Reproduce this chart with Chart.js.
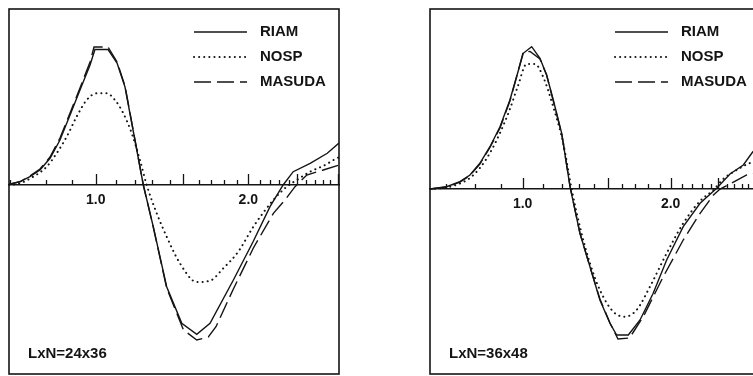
<!DOCTYPE html>
<html>
<head>
<meta charset="utf-8">
<script src="https://cdn.jsdelivr.net/npm/chart.js@4"></script>
<style>
  html, body { margin: 0; padding: 0; background: #fff; overflow: hidden; width: 753px; height: 376px; }
  .panel { position: absolute; top: 7px; height: 369px; }
  #left { left: 7px; width: 334px; }
  #right { left: 428px; width: 337px; }
</style>
</head>
<body>
<div class="panel" id="left"><canvas id="chartLeft"></canvas></div>
<div class="panel" id="right"><canvas id="chartRight"></canvas></div>
<script>
  /* wave profile comparison, two grid resolutions */

  const SERIES = ["RIAM", "NOSP", "MASUDA"];
  const TICK_LABELS = [1.0, 2.0];
  const CAPTIONS = ["LxN=24x36", "LxN=36x48"];

  // grid node positions marked on the axis
  const nodes24 = [0.438, 0.672, 0.843, 1.0, 1.131, 1.258, 1.367, 1.487, 1.574, 1.677, 1.756, 1.841,
    1.928, 2.0, 2.077, 2.142, 2.203, 2.265, 2.317, 2.378, 2.437, 2.488, 2.535, 2.588];
  const nodes36 = [0.482, 0.678, 0.853, 1.0, 1.139, 1.264, 1.380, 1.484, 1.578, 1.673, 1.759, 1.845,
    1.926, 2.0, 2.074, 2.142, 2.209, 2.273, 2.322, 2.378, 2.43, 2.48, 2.524, 2.57];

  // [x, y] pairs, LxN = 24x36
  const riam24 = [[0.432, 0.007], [0.506, 0.033], [0.569, 0.083], [0.635, 0.15], [0.701, 0.267], [0.766, 0.45],
    [0.832, 0.70], [0.897, 0.95], [0.963, 1.20], [0.995, 1.355], [1.081, 1.355], [1.140, 1.22], [1.192, 0.98],
    [1.312, 0.0], [1.377, -0.417], [1.465, -1.017], [1.564, -1.383], [1.662, -1.493], [1.749, -1.383],
    [1.902, -0.95], [2.031, -0.567], [2.142, -0.217], [2.228, 0.0], [2.294, 0.133], [2.405, 0.217],
    [2.517, 0.317], [2.594, 0.42]];
  const nosp24 = [[0.432, 0.0], [0.504, 0.017], [0.591, 0.083], [0.679, 0.183], [0.744, 0.317], [0.810, 0.483],
    [0.875, 0.683], [0.941, 0.85], [1.007, 0.917], [1.072, 0.917], [1.126, 0.85], [1.181, 0.717], [1.236, 0.517],
    [1.290, 0.25], [1.334, 0.0], [1.400, -0.283], [1.465, -0.517], [1.552, -0.783], [1.662, -0.97],
    [1.749, -0.957], [1.836, -0.833], [1.934, -0.667], [2.033, -0.417], [2.164, -0.15], [2.252, -0.017],
    [2.317, 0.05], [2.405, 0.133], [2.503, 0.2], [2.579, 0.267], [2.594, 0.275]];
  const masuda24 = [[0.432, 0.005], [0.506, 0.035], [0.569, 0.09], [0.635, 0.16], [0.701, 0.28], [0.766, 0.47],
    [0.832, 0.72], [0.897, 0.97], [0.963, 1.23], [0.989, 1.38], [1.081, 1.38], [1.140, 1.23], [1.192, 0.99],
    [1.312, 0.0], [1.377, -0.42], [1.465, -1.03], [1.575, -1.45], [1.662, -1.55], [1.738, -1.52],
    [1.788, -1.417], [1.902, -1.04], [2.033, -0.63], [2.164, -0.283], [2.240, -0.15], [2.306, -0.017],
    [2.383, 0.10], [2.491, 0.15], [2.594, 0.20]];

  // [x, y] pairs, LxN = 36x48
  const riam36 = [[0.374, 0.0], [0.486, 0.023], [0.576, 0.073], [0.644, 0.14], [0.711, 0.257], [0.779, 0.423],
    [0.847, 0.623], [0.914, 0.89], [0.959, 1.123], [1.004, 1.357], [1.061, 1.423], [1.117, 1.307], [1.162, 1.14],
    [1.207, 0.89], [1.264, 0.557], [1.320, 0.023], [1.387, -0.443], [1.455, -0.777], [1.522, -1.11],
    [1.590, -1.343], [1.635, -1.46], [1.714, -1.46], [1.793, -1.31], [1.882, -1.043], [1.973, -0.71],
    [2.085, -0.377], [2.199, -0.143], [2.311, 0.007], [2.401, 0.15], [2.491, 0.24], [2.554, 0.37], [2.624, 0.47]];
  const nosp36 = [[0.374, 0.0], [0.486, 0.015], [0.576, 0.055], [0.644, 0.11], [0.711, 0.21], [0.779, 0.36],
    [0.847, 0.56], [0.914, 0.80], [0.968, 1.03], [1.027, 1.25], [1.083, 1.25], [1.139, 1.12], [1.207, 0.82],
    [1.274, 0.46], [1.331, 0.0], [1.387, -0.377], [1.455, -0.743], [1.522, -1.01], [1.612, -1.227],
    [1.691, -1.277], [1.770, -1.21], [1.860, -0.977], [1.973, -0.643], [2.085, -0.343], [2.199, -0.12],
    [2.289, -0.01], [2.355, 0.10], [2.446, 0.19], [2.536, 0.26], [2.624, 0.29]];
  const masuda36 = [[0.374, 0.0], [0.486, 0.02], [0.576, 0.07], [0.644, 0.135], [0.711, 0.25], [0.779, 0.415],
    [0.847, 0.61], [0.914, 0.88], [0.959, 1.12], [1.004, 1.37], [1.050, 1.375], [1.117, 1.30], [1.162, 1.14],
    [1.207, 0.88], [1.264, 0.55], [1.320, 0.03], [1.387, -0.44], [1.455, -0.78], [1.522, -1.10],
    [1.590, -1.34], [1.644, -1.50], [1.722, -1.49], [1.815, -1.277], [1.950, -0.877], [2.085, -0.51],
    [2.199, -0.243], [2.289, -0.06], [2.334, 0.0], [2.401, 0.05], [2.514, 0.14], [2.624, 0.17]];

  const INK = "#141414";
  const FONT = '"Liberation Sans", Arial, Helvetica, sans-serif';

  const lineStyles = [
    { borderDash: [], borderWidth: 1.4, borderCapStyle: "butt", tension: 0 },
    { borderDash: [0.1, 5], borderWidth: 2, borderCapStyle: "round", cubicInterpolationMode: "monotone" },
    { borderDash: [17, 6], borderWidth: 1.4, borderCapStyle: "butt", tension: 0 }
  ];

  // frame, node ticks on the zero line, inline legend and caption
  const panelDecor = {
    id: "panelDecor",
    afterDatasetsDraw(chart, args, opts) {
      const { ctx, chartArea: a, scales: { x, y } } = chart;
      const y0 = y.getPixelForValue(0);

      ctx.save();
      ctx.strokeStyle = INK;
      ctx.fillStyle = INK;

      ctx.lineWidth = 1.3;
      opts.nodes.forEach((v, i) => {
        const px = Math.round(x.getPixelForValue(v)) + 0.5;
        const h = i % 5 === 3 ? 11 : 5;
        ctx.beginPath();
        ctx.moveTo(px, y0);
        ctx.lineTo(px, y0 - h);
        ctx.stroke();
      });

      ctx.lineWidth = 1.6;
      ctx.strokeRect(a.left, a.top, a.width, a.height);

      ctx.font = "bold 15px " + FONT;
      ctx.textBaseline = "middle";
      chart.data.datasets.forEach((ds, i) => {
        const ly = a.top + 23 + i * 25;
        ctx.save();
        ctx.lineWidth = ds.borderWidth;
        ctx.setLineDash(ds.borderDash);
        ctx.lineCap = ds.borderCapStyle;
        ctx.beginPath();
        ctx.moveTo(a.left + 185, ly);
        ctx.lineTo(a.left + 238, ly);
        ctx.stroke();
        ctx.restore();
        ctx.fillText(ds.label, a.left + 251, ly);
      });

      ctx.textBaseline = "alphabetic";
      ctx.fillText(opts.caption, a.left + 19, a.bottom - 16);
      ctx.restore();
    }
  };

  function makePanel(canvasId, seriesData, nodes, caption, xRange, yRange) {
    return new Chart(document.getElementById(canvasId), {
      type: "line",
      data: {
        datasets: seriesData.map((pts, i) => ({
          label: SERIES[i],
          data: pts.map(([x, y]) => ({ x, y })),
          borderColor: INK,
          pointRadius: 0,
          fill: false,
          ...lineStyles[i]
        }))
      },
      options: {
        responsive: true,
        maintainAspectRatio: false,
        animation: false,
        events: [],
        layout: { padding: 2 },
        plugins: {
          legend: { display: false },
          tooltip: { enabled: false },
          panelDecor: { nodes, caption }
        },
        scales: {
          x: {
            type: "linear",
            min: xRange[0],
            max: xRange[1],
            position: { y: 0 },
            afterBuildTicks(scale) {
              scale.ticks = TICK_LABELS.map(v => ({ value: v }));
            },
            ticks: {
              callback: v => v.toFixed(1),
              color: INK,
              font: { family: FONT, size: 14, weight: "bold" },
              padding: 7,
              maxRotation: 0,
              autoSkip: false
            },
            grid: { display: false, drawTicks: false },
            border: { display: true, color: INK, width: 1.4 }
          },
          y: {
            type: "linear",
            min: yRange[0],
            max: yRange[1],
            display: false
          }
        }
      },
      plugins: [panelDecor]
    });
  }

  makePanel("chartLeft", [riam24, nosp24, masuda24], nodes24, CAPTIONS[0], [0.432, 2.594], [-1.89, 1.76]);
  makePanel("chartRight", [riam36, nosp36, masuda36], nodes36, CAPTIONS[1], [0.374, 2.624], [-1.85, 1.80]);
</script>
</body>
</html>
